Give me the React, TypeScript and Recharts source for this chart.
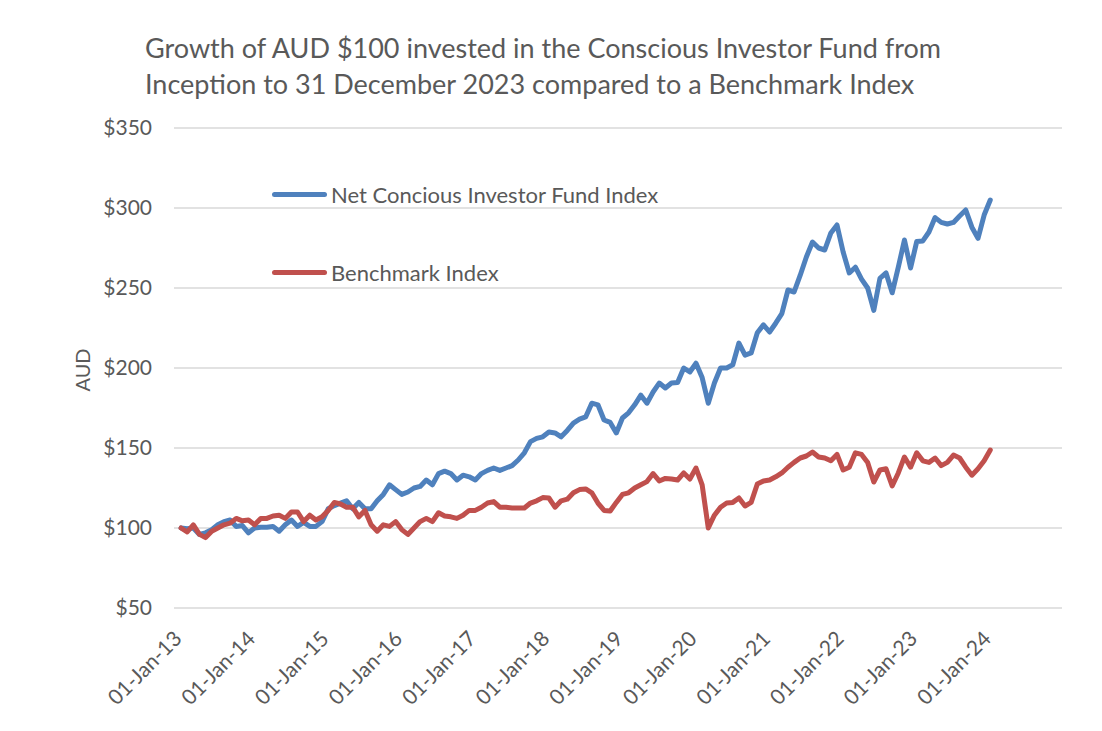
import React from "react";
import {
  CartesianGrid,
  Legend,
  Line,
  LineChart,
  XAxis,
  YAxis,
} from "recharts";

// monthly points, month 0 = 01-Jan-13, month 132 = 31-Dec-23
const fundIndex = [
  100, 99.5, 100, 96, 97, 99, 102, 104, 105, 101, 101.5, 97,
  100, 100.5, 100.5, 101, 98, 102, 105, 101, 103.5, 101, 101, 104,
  112, 114, 115.5, 117, 112, 116, 112, 112, 117, 121, 127, 124,
  121, 122.5, 125, 126, 130, 127, 134, 135.5, 134, 130, 133, 132,
  130, 134, 136, 137.5, 136, 137.5, 139, 142.5, 147, 154, 156, 157,
  160, 159.4, 157, 161, 165.6, 168, 169.4, 178, 177, 167.5, 166, 159.4,
  168.75, 172, 177, 183, 178, 185, 190.6, 187.5, 190.6, 191, 200, 197.5,
  203, 194, 178, 190.6, 200, 200, 202, 215.6, 208, 209.4, 222, 227,
  222.5, 228, 234, 248.75, 247.5, 258, 269.4, 278.75, 275, 273.75, 284.4, 289.4,
  272.5, 259.4, 263, 255.6, 250, 236, 256, 259.4, 247, 263, 280, 262.5,
  279, 279.4, 285, 294, 291, 290, 291, 295, 298.75, 288, 281, 295.6,
  305,
];

const benchmarkIndex = [
  100, 97.5, 102, 96, 94, 98, 100, 102, 103, 106, 104.5, 105,
  102, 106, 106, 107.5, 108, 106, 110, 110, 104, 108, 105, 107,
  111, 116, 115, 113, 113, 107, 111, 102, 98, 102, 101, 104,
  99, 96, 100, 104, 106, 104, 109.5, 107.5, 107, 106, 108, 111,
  111, 113, 115.6, 116.5, 113, 113, 112.5, 112.5, 112.5, 115.6, 117, 119,
  118.75, 113, 117, 118, 122, 124, 124.4, 122, 115.6, 111, 110.6, 116,
  121, 122, 125, 127, 129, 134, 129.4, 131, 130.6, 130, 134.4, 130.6,
  137.5, 127, 100, 108, 113, 115.6, 116, 118.75, 113.75, 116, 127.5, 129.4,
  130, 132, 134.4, 138, 141, 143.75, 145, 147.5, 144.4, 143.75, 142, 146,
  136.25, 138, 147, 146, 141, 128.75, 136.25, 137, 126.25, 134.4, 144.4, 138,
  147, 142, 141, 143.75, 139, 141, 145.6, 143.75, 138, 133, 137, 142,
  148.75,
];

const xTicks = [0, 12, 24, 36, 48, 60, 72, 84, 96, 108, 120, 132];
const xTickLabels = [
  "01-Jan-13", "01-Jan-14", "01-Jan-15", "01-Jan-16", "01-Jan-17", "01-Jan-18",
  "01-Jan-19", "01-Jan-20", "01-Jan-21", "01-Jan-22", "01-Jan-23", "01-Jan-24",
];
const yTicks = [50, 100, 150, 200, 250, 300, 350];
const legendOrder = ["fund", "bench"];

const data = fundIndex.map((v, i) => ({
  m: i,
  fund: v,
  bench: benchmarkIndex[i],
}));

const fontFamily = "Lato, 'Open Sans', sans-serif";
const textColor = "#595959";
const gridColor = "#d9d9d9";
const fundColor = "#4f81bd";
const benchColor = "#c0504d";

const XTick = (props: any) => {
  const { x, y, payload } = props;
  const idx = xTicks.indexOf(payload.value);
  const ax = x + 2;
  const ay = y + 32;
  return (
    <text
      x={ax}
      y={ay}
      transform={`rotate(-45, ${ax}, ${ay})`}
      textAnchor="end"
      fill={textColor}
      fontSize={21}
      fontFamily={fontFamily}
    >
      {xTickLabels[idx]}
    </text>
  );
};

const renderLegend = (props: any) => {
  const items = [...(props.payload || [])].sort(
    (a: any, b: any) => legendOrder.indexOf(a.dataKey) - legendOrder.indexOf(b.dataKey)
  );
  return (
    <div style={{ fontFamily, color: textColor, fontSize: 22 }}>
      {items.map((p: any, i: number) => (
        <div
          key={i}
          style={{
            display: "flex",
            alignItems: "center",
            height: 26,
            marginBottom: i === 0 ? 52 : 0,
          }}
        >
          <div
            style={{
              width: 55,
              height: 5,
              borderRadius: 3,
              background: p.color,
              marginRight: 4,
            }}
          />
          <span>{p.value}</span>
        </div>
      ))}
    </div>
  );
};

export default function App() {
  return (
    <div
      style={{
        position: "relative",
        width: 1102,
        height: 731,
        margin: -8,
        background: "#fff",
        borderRight: "1px solid #d9d9d9",
        borderBottom: "1px solid #d9d9d9",
        boxSizing: "border-box",
      }}
    >
      <div
        style={{
          position: "absolute",
          left: 145,
          top: 30,
          fontFamily,
          fontSize: 27,
          lineHeight: "36px",
          color: textColor,
          whiteSpace: "nowrap",
        }}
      >
        Growth of AUD $100 invested in the Conscious Investor Fund from
        <br />
        Inception to 31 December 2023 compared to a Benchmark Index
      </div>
      <div
        style={{
          position: "absolute",
          left: 82,
          top: 370,
          transform: "translate(-50%, -50%) rotate(-90deg)",
          fontFamily,
          fontSize: 20,
          color: textColor,
        }}
      >
        AUD
      </div>
      <LineChart
        width={1102}
        height={731}
        data={data}
        margin={{ top: 128, right: 40, bottom: 0, left: 0 }}
      >
        <CartesianGrid horizontal vertical={false} stroke={gridColor} strokeWidth={1.5} />
        <XAxis
          dataKey="m"
          type="number"
          domain={[-1.15, 143.7]}
          ticks={xTicks}
          tick={<XTick />}
          axisLine={false}
          tickLine={false}
          tickSize={0}
          tickMargin={0}
          height={123}
          interval={0}
          allowDataOverflow
        />
        <YAxis
          type="number"
          domain={[50, 350]}
          ticks={yTicks}
          tickFormatter={(v: number) => `$${v}`}
          tick={{ fill: textColor, fontSize: 21, fontFamily }}
          axisLine={false}
          tickLine={false}
          tickSize={0}
          tickMargin={22}
          width={174}
          interval={0}
        />
        <Legend
          layout="vertical"
          align="center"
          verticalAlign="middle"
          content={renderLegend}
          wrapperStyle={{ position: "absolute", left: 272, top: 181, width: "auto", height: "auto" }}
        />
        <Line
          name="Net Concious Investor Fund Index"
          dataKey="fund"
          type="linear"
          stroke={fundColor}
          strokeWidth={5}
          strokeLinejoin="round"
          strokeLinecap="round"
          dot={false}
          isAnimationActive={false}
        />
        <Line
          name="Benchmark Index"
          dataKey="bench"
          type="linear"
          stroke={benchColor}
          strokeWidth={5}
          strokeLinejoin="round"
          strokeLinecap="round"
          dot={false}
          isAnimationActive={false}
        />
      </LineChart>
    </div>
  );
}
